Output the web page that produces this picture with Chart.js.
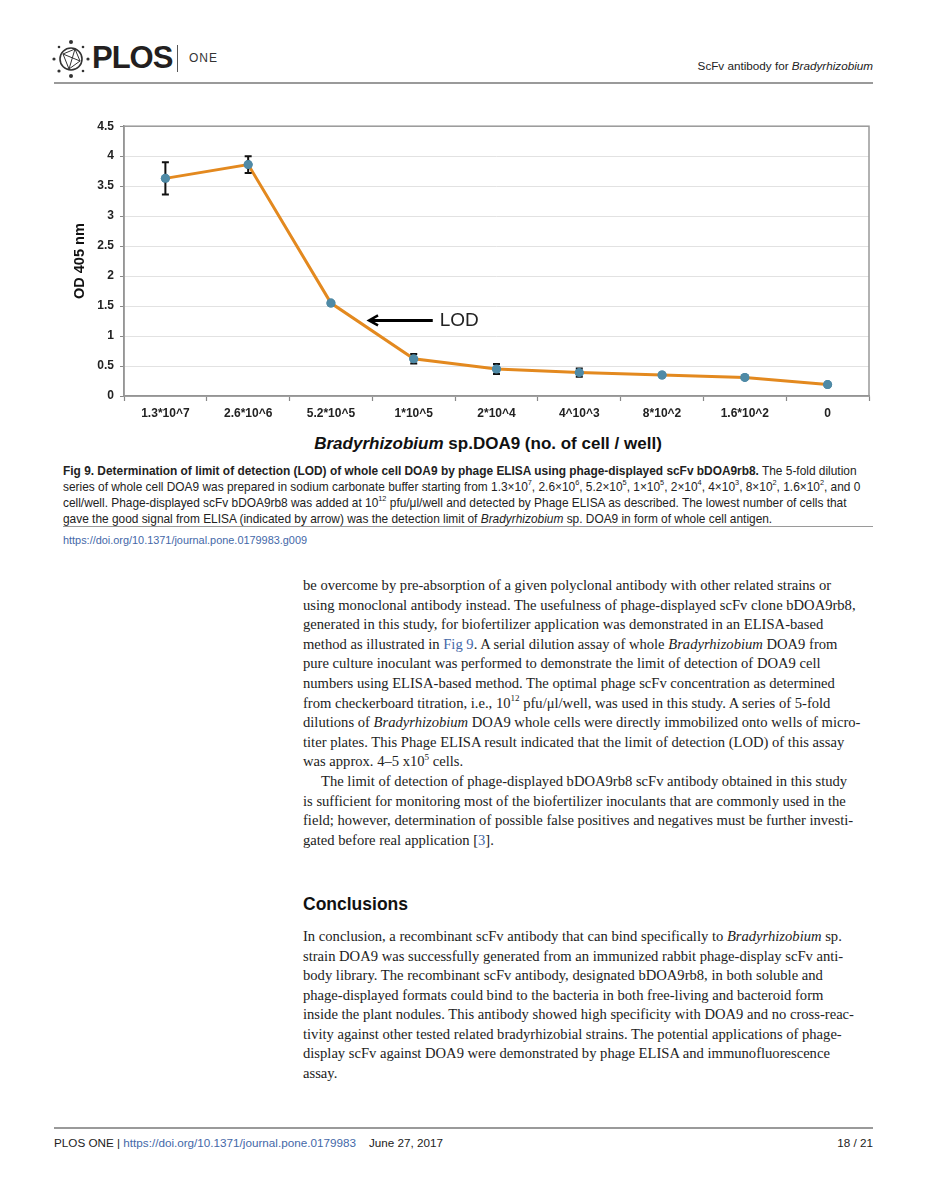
<!DOCTYPE html>
<html>
<head>
<meta charset="utf-8">
<script src="https://cdn.jsdelivr.net/npm/chart.js@4.4.1/dist/chart.umd.min.js"></script>
<style>
  html, body { margin: 0; padding: 0; background: #fff; }
  body { width: 927px; height: 1200px; position: relative; overflow: hidden; color: #222; }
  .abs { position: absolute; white-space: nowrap; }
  .sans { font-family: "Liberation Sans", Arial, sans-serif; }
  .serif { font-family: "Liberation Serif", "Times New Roman", serif; }
  .rule { position: absolute; height: 0; border-top: 2px solid #9a9a9a; }
  sup { font-size: 0.62em; line-height: 0; position: relative; top: -0.1em; }
  a { color: #4468a8; text-decoration: none; }
  .cap div { position: absolute; left: 0; white-space: nowrap; height: 16px; line-height: 16px; }
  .txt div { position: absolute; left: 0; white-space: nowrap; height: 20px; line-height: 20px; }
</style>
</head>
<body>

<!-- header -->
<svg class="abs" style="left:50px; top:38px;" width="42" height="42" viewBox="0 0 42 42">
  <circle cx="21" cy="21" r="11" fill="none" stroke="#333" stroke-width="1.6"/>
  <path d="M13 16 L25 11 L30 23 L19 31 Z M13 16 L30 23 M25 11 L19 31" fill="none" stroke="#333" stroke-width="1"/>
  <circle cx="21" cy="4" r="2" fill="#333"/><circle cx="21" cy="38" r="2" fill="#333"/>
  <circle cx="4" cy="21" r="1.6" fill="#333"/><circle cx="38" cy="21" r="1.6" fill="#333"/>
  <circle cx="9" cy="9" r="1.3" fill="#333"/><circle cx="33" cy="9" r="1.3" fill="#333"/>
  <circle cx="9" cy="33" r="1.6" fill="#333"/><circle cx="33" cy="33" r="1.3" fill="#333"/>
</svg>
<div class="abs sans" style="left:92px; top:40px; font-size:31px; font-weight:900; line-height:36px; letter-spacing:-1px; color:#231f20;">PLOS</div>
<div class="abs" style="left:177px; top:45px; width:1px; height:27px; background:#555;"></div>
<div class="abs sans" style="left:189px; top:51px; font-size:12px; line-height:14px; letter-spacing:1px; color:#333;">ONE</div>
<div class="abs sans" style="right:54px; top:59px; font-size:11.7px; line-height:14px; color:#222;">ScFv antibody for <i>Bradyrhizobium</i></div>
<div class="rule" style="left:54px; width:819px; top:82px;"></div>

<!-- figure -->
<canvas id="odChart" class="abs" style="left:40px; top:113px;" width="840" height="320"></canvas>
<div class="abs sans" style="left:488px; top:433px; transform:translateX(-50%); font-size:17px; font-weight:bold; line-height:22px; color:#111;"><i>Bradyrhizobium</i> sp.DOA9 (no. of cell / well)</div>

<div class="abs sans cap" style="left:63px; top:463px; font-size:11.9px; color:#222;">
  <div style="top:0px;"><b>Fig 9. Determination of limit of detection (LOD) of whole cell DOA9 by phage ELISA using phage-displayed scFv bDOA9rb8.</b> The 5-fold dilution</div>
  <div style="top:16px;">series of whole cell DOA9 was prepared in sodium carbonate buffer starting from 1.3×10<sup>7</sup>, 2.6×10<sup>6</sup>, 5.2×10<sup>5</sup>, 1×10<sup>5</sup>, 2×10<sup>4</sup>, 4×10<sup>3</sup>, 8×10<sup>2</sup>, 1.6×10<sup>2</sup>, and 0</div>
  <div style="top:32px;">cell/well. Phage-displayed scFv bDOA9rb8 was added at 10<sup>12</sup> pfu/μl/well and detected by Phage ELISA as described. The lowest number of cells that</div>
  <div style="top:48px;">gave the good signal from ELISA (indicated by arrow) was the detection limit of <i>Bradyrhizobium</i> sp. DOA9 in form of whole cell antigen.</div>
</div>
<div class="rule" style="left:63px; width:810px; top:526px; border-top-width:1.5px;"></div>
<div class="abs sans" style="left:63px; top:533px; font-size:10.9px; line-height:14px;"><a>https://doi.org/10.1371/journal.pone.0179983.g009</a></div>

<!-- body text -->
<div class="abs serif txt" style="left:303px; top:575px; font-size:14.6px;">
  <div style="top:0px;">be overcome by pre-absorption of a given polyclonal antibody with other related strains or</div>
  <div style="top:19.6px;">using monoclonal antibody instead. The usefulness of phage-displayed scFv clone bDOA9rb8,</div>
  <div style="top:39.2px;">generated in this study, for biofertilizer application was demonstrated in an ELISA-based</div>
  <div style="top:58.8px;">method as illustrated in <a>Fig 9</a>. A serial dilution assay of whole <i>Bradyrhizobium</i> DOA9 from</div>
  <div style="top:78.4px;">pure culture inoculant was performed to demonstrate the limit of detection of DOA9 cell</div>
  <div style="top:98px;">numbers using ELISA-based method. The optimal phage scFv concentration as determined</div>
  <div style="top:117.6px;">from checkerboard titration, i.e., 10<sup>12</sup> pfu/μl/well, was used in this study. A series of 5-fold</div>
  <div style="top:137.2px;">dilutions of <i>Bradyrhizobium</i> DOA9 whole cells were directly immobilized onto wells of micro-</div>
  <div style="top:156.8px;">titer plates. This Phage ELISA result indicated that the limit of detection (LOD) of this assay</div>
  <div style="top:176.4px;">was approx. 4–5 x10<sup>5</sup> cells.</div>
  <div style="top:196px; left:18px;">The limit of detection of phage-displayed bDOA9rb8 scFv antibody obtained in this study</div>
  <div style="top:215.6px;">is sufficient for monitoring most of the biofertilizer inoculants that are commonly used in the</div>
  <div style="top:235.2px;">field; however, determination of possible false positives and negatives must be further investi-</div>
  <div style="top:254.8px;">gated before real application [<a>3</a>].</div>
</div>

<div class="abs sans" style="left:303px; top:893px; font-size:17.5px; font-weight:bold; line-height:22px; color:#111;">Conclusions</div>

<div class="abs serif txt" style="left:303px; top:926px; font-size:14.6px;">
  <div style="top:0px;">In conclusion, a recombinant scFv antibody that can bind specifically to <i>Bradyrhizobium</i> sp.</div>
  <div style="top:19.5px;">strain DOA9 was successfully generated from an immunized rabbit phage-display scFv anti-</div>
  <div style="top:39px;">body library. The recombinant scFv antibody, designated bDOA9rb8, in both soluble and</div>
  <div style="top:58.5px;">phage-displayed formats could bind to the bacteria in both free-living and bacteroid form</div>
  <div style="top:78px;">inside the plant nodules. This antibody showed high specificity with DOA9 and no cross-reac-</div>
  <div style="top:97.5px;">tivity against other tested related bradyrhizobial strains. The potential applications of phage-</div>
  <div style="top:117px;">display scFv against DOA9 were demonstrated by phage ELISA and immunofluorescence</div>
  <div style="top:136.5px;">assay.</div>
</div>

<!-- footer -->
<div class="rule" style="left:54px; width:819px; top:1127px;"></div>
<div class="abs sans" style="left:54px; top:1136px; font-size:11.7px; line-height:14px;">PLOS ONE | <a>https://doi.org/10.1371/journal.pone.0179983</a>&nbsp;&nbsp;&nbsp; June 27, 2017</div>
<div class="abs sans" style="right:54px; top:1136px; font-size:11.7px; line-height:14px;">18 / 21</div>

<script>
// cells per well (x categories) and OD 405 nm readings
const cellLabels = ['1.3*10^7', '2.6*10^6', '5.2*10^5', '1*10^5', '2*10^4', '4^10^3', '8*10^2', '1.6*10^2', '0'];
const odValues = [3.63, 3.86, 1.55, 0.62, 0.45, 0.39, 0.35, 0.31, 0.19];
const odErrors = [0.27, 0.14, 0.02, 0.08, 0.085, 0.07, 0, 0, 0.02];
const yTickMin = 0, yTickMax = 4.5, yTickStep = 0.5;
// LOD arrow, in data units: category position and OD level
const lodLabel = 'LOD';
const lodArrow = { y: 1.26, from: 3.23, to: 2.46 };

Chart.defaults.font.family = '"Liberation Sans", Arial, sans-serif';
Chart.defaults.color = '#222';

// error bars drawn through the scales
const errorBars = {
  id: 'errorBars',
  afterDatasetsDraw(chart) {
    const ctx = chart.ctx, x = chart.scales.x, y = chart.scales.y;
    ctx.save();
    ctx.strokeStyle = '#111';
    ctx.lineWidth = 2;
    odValues.forEach((v, i) => {
      if (!odErrors[i]) return;
      const px = x.getPixelForValue(i);
      const top = y.getPixelForValue(v + odErrors[i]);
      const bot = y.getPixelForValue(v - odErrors[i]);
      ctx.beginPath();
      ctx.moveTo(px, top); ctx.lineTo(px, bot);
      ctx.moveTo(px - 3.5, top); ctx.lineTo(px + 3.5, top);
      ctx.moveTo(px - 3.5, bot); ctx.lineTo(px + 3.5, bot);
      ctx.stroke();
    });
    ctx.restore();
    // redraw markers on top of the bars
    const meta = chart.getDatasetMeta(0);
    meta.data.forEach(p => p.draw(ctx, chart.chartArea));
  }
};

// plot frame and LOD arrow
const frameAndArrow = {
  id: 'frameAndArrow',
  afterDraw(chart) {
    const ctx = chart.ctx, a = chart.chartArea, x = chart.scales.x, y = chart.scales.y;
    ctx.save();
    ctx.strokeStyle = '#999';
    ctx.lineWidth = 1.5;
    ctx.strokeRect(a.left, a.top, a.right - a.left, a.bottom - a.top);

    const py = y.getPixelForValue(lodArrow.y);
    const x0 = x.getPixelForValue(lodArrow.from);
    const x1 = x.getPixelForValue(lodArrow.to);
    ctx.strokeStyle = '#000';
    ctx.lineWidth = 3;
    ctx.beginPath();
    ctx.moveTo(x0, py); ctx.lineTo(x1 + 2, py);
    ctx.stroke();
    ctx.lineWidth = 2.5;
    ctx.beginPath();
    ctx.moveTo(x1 + 9, py - 5); ctx.lineTo(x1, py); ctx.lineTo(x1 + 9, py + 5);
    ctx.stroke();
    ctx.fillStyle = '#222';
    ctx.font = '19px "Liberation Sans", Arial, sans-serif';
    ctx.textBaseline = 'middle';
    ctx.fillText(lodLabel, x0 + 7, py);
    ctx.restore();
  }
};

new Chart(document.getElementById('odChart'), {
  type: 'line',
  data: {
    labels: cellLabels,
    datasets: [{
      data: odValues,
      borderColor: '#e3891f',
      borderWidth: 3,
      pointBackgroundColor: '#4f8aa6',
      pointBorderColor: '#4f8aa6',
      pointRadius: 4.5,
      pointBorderWidth: 0,
      tension: 0,
      fill: false
    }]
  },
  options: {
    responsive: false,
    animation: false,
    events: [],
    layout: { padding: { top: 10, right: 11, left: 0, bottom: 0 } },
    plugins: { legend: { display: false }, tooltip: { enabled: false } },
    scales: {
      x: {
        offset: true,
        grid: { display: true, offset: true, drawOnChartArea: false, tickLength: 5, tickColor: '#888', tickWidth: 1.2 },
        border: { color: '#888', width: 1.5 },
        ticks: { autoSkip: false, maxRotation: 0, padding: 5, font: { size: 12, weight: 'bold' }, color: '#222' },
        afterFit(s) { s.height = 37; }
      },
      y: {
        min: yTickMin,
        max: yTickMax,
        ticks: { stepSize: yTickStep, padding: 6, font: { size: 12, weight: 'bold' }, color: '#222', callback: v => String(v) },
        grid: { color: '#e2e2e2', tickColor: '#888', tickLength: 4, lineWidth: 1 },
        border: { color: '#888', width: 1.5 },
        title: { display: true, text: 'OD 405 nm', font: { size: 14.5, weight: 'bold' }, color: '#111', padding: { top: 31, bottom: 0 } },
        afterFit(s) { s.width = 84; }
      }
    }
  },
  plugins: [errorBars, frameAndArrow]
});
</script>
</body>
</html>
